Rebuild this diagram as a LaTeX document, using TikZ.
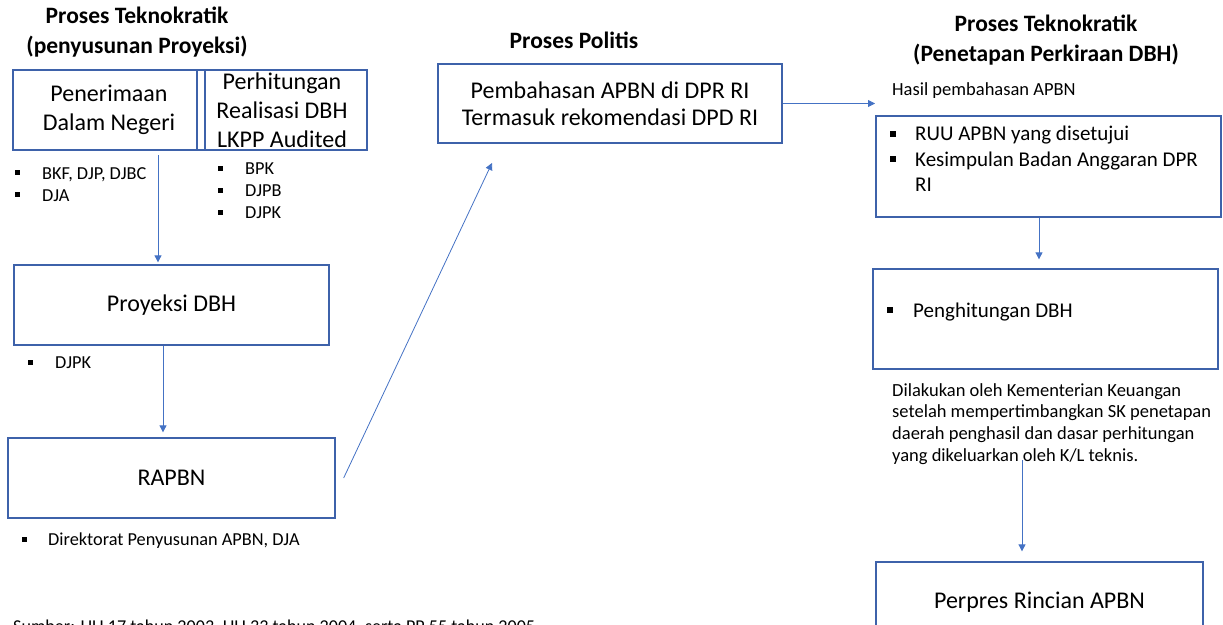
\documentclass[tikz,border=0pt]{standalone}
\usepackage{fontspec}
\setmainfont{Carlito}
\usepackage{tikz}
\usetikzlibrary{arrows.meta, positioning, calc}
\definecolor{offblue}{RGB}{68, 114, 196}
\definecolor{boxblue}{RGB}{62, 98, 170}

\newcommand{\sqbul}{\rule[0.2em]{0.28em}{0.28em}}
\newcommand{\itm}[2][27pt]{\makebox[#1][l]{\sqbul}#2}

\begin{document}
\begin{tikzpicture}[
    x=1pt, y=-1pt,
    box/.style={rectangle, draw=boxblue, line width=1.3pt, align=center, inner sep=0pt, font=\fontsize{24}{29}\selectfont},
    heading/.style={align=center, inner sep=0pt, font=\fontsize{23.5}{29.5}\selectfont\bfseries},
    note/.style={align=left, inner sep=0pt, anchor=north west, font=\fontsize{18.3}{22}\selectfont},
    bignote/.style={align=left, inner sep=0pt, anchor=north west, font=\fontsize{18.5}{21.8}\selectfont},
    arrow/.style={draw=offblue, line width=0.8pt, -{Triangle[width=7pt, length=7pt]}}
]
    \useasboundingbox (0,0) rectangle (1223,624);

    % Proses Teknokratik (proyeksi)
    \node[heading] (headproy) at (137,32) {Proses Teknokratik\\(penyusunan Proyeksi)};

    \node[box, minimum width=192, minimum height=80] (pdn) at (109,110) {Penerimaan\\Dalam Negeri};
    \node[box, minimum width=170, minimum height=80] (lkpp) at (282,110) {Perhitungan\\Realisasi DBH\\LKPP Audited};
    \node[note] (notepdn) at (15,167) {\itm{BKF, DJP, DJBC}\\\itm{DJA}};
    \node[note] (notelkpp) at (218,163) {\itm{BPK}\\\itm{DJPB}\\\itm{DJPK}};

    \node[box, minimum width=315, minimum height=80] (proy) at (171.5,305) {Proyeksi DBH};
    \node[note] (noteproy) at (28,357) {\itm{DJPK}};

    \node[box, minimum width=327, minimum height=80] (rapbn) at (171.5,478) {RAPBN};
    \node[note] (noterapbn) at (22,533) {\itm[26pt]{Direktorat Penyusunan APBN, DJA}};

    % Proses Politis
    \node[heading] (headpol) at (574,40) {Proses Politis};
    \node[box, minimum width=344, minimum height=79, font=\fontsize{24}{27}\selectfont] (dpr) at (610,103.5) {Pembahasan APBN di DPR RI\\Termasuk rekomendasi DPD RI};

    % Proses Teknokratik (penetapan)
    \node[heading] (headdbh) at (1046,40) {Proses Teknokratik\\(Penetapan Perkiraan DBH)};
    \node[bignote, anchor=west] (hasil) at (892,91) {Hasil pembahasan APBN};

    \node[box, minimum width=345, minimum height=101] (ruu) at (1048.5,166.5) {};
    \node[bignote, font=\fontsize{21}{25.5}\selectfont] (ruutext) at (890,126) {\itm[25pt]{RUU APBN yang disetujui}\\\itm[25pt]{Kesimpulan Badan Anggaran DPR}\\\hspace*{25pt}RI};

    \node[box, minimum width=345, minimum height=100] (hitung) at (1045.5,319) {};
    \node[bignote, anchor=west, font=\fontsize{21}{25}\selectfont] (hitungtext) at (887,312) {\itm[26pt]{Penghitungan DBH}};
    \node[bignote] (dilakukan) at (892,383) {Dilakukan oleh Kementerian Keuangan\\setelah mempertimbangkan SK penetapan\\daerah penghasil dan dasar perhitungan\\yang dikeluarkan oleh K/L teknis.};

    \node[box, minimum width=327, minimum height=80] (perpres) at (1039.5,602) {Perpres Rincian APBN};

    \node[bignote, anchor=base west, font=\fontsize{18.1}{21.8}\selectfont] (sumber) at (13,632) {Sumber: UU 17 tahun 2003, UU 33 tahun 2004, serta PP 55 tahun 2005};

    % Arrows
    \coordinate (a1) at (158,155);
    \coordinate (a2) at (163,0);
    \coordinate (a3) at (492,163);
    \coordinate (a4) at (875,103.5);
    \coordinate (a5) at (1039,0);
    \coordinate (a6) at (1022,460);

    \draw[arrow, shorten >=2pt] (a1) -- (a1 |- proy.north);
    \draw[arrow, shorten >=5pt] (a2 |- proy.south) -- (a2 |- rapbn.north);
    \draw[arrow] ([xshift=8pt]rapbn.east) -- (a3);
    \draw[arrow] (dpr.east) -- (a4);
    \draw[arrow, shorten >=9pt] (a5 |- ruu.south) -- (a5 |- hitung.north);
    \draw[arrow, shorten >=10pt] (a6) -- (a6 |- perpres.north);

\end{tikzpicture}
\end{document}
